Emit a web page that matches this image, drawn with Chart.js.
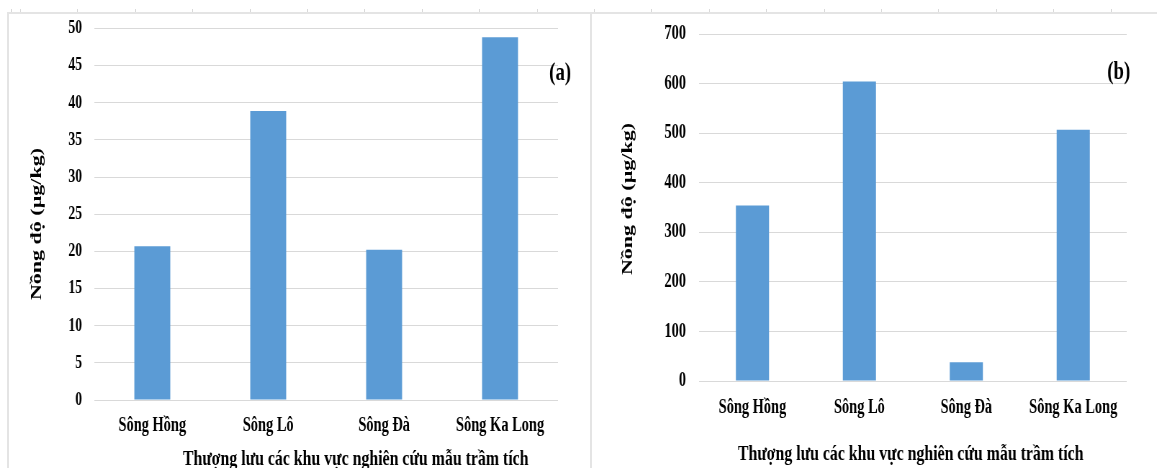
<!DOCTYPE html>
<html>
<head>
<meta charset="utf-8">
<script src="https://cdn.jsdelivr.net/npm/chart.js@4.4.1/dist/chart.umd.min.js"></script>
<style>
  html, body { margin: 0; padding: 0; background: #fff; overflow: hidden; }
  #page { position: relative; width: 1157px; height: 468px; overflow: hidden; background: #fff; }
  canvas { position: absolute; top: 0; transform: scaleX(0.72); transform-origin: 0 0; }
  #chartA { left: 0; }
  #chartB { left: 591px; }
  .rule { position: absolute; background: #e4e4e4; }
  #ruler {
    position: absolute; left: 0; top: 9px; width: 1157px; height: 3px;
    background: repeating-linear-gradient(to right, #dadada 0 1px, transparent 1px 57.4px);
    background-position: 20px 0;
  }
</style>
</head>
<body>
<div id="page">
  <div id="ruler"></div>
  <div class="rule" style="left:7px;top:12px;width:1150px;height:2px"></div>
  <div class="rule" style="left:7px;top:12px;width:2px;height:456px"></div>
  <div class="rule" style="left:590px;top:12px;width:2px;height:456px"></div>
  <canvas id="chartA" width="820" height="480"></canvas>
  <canvas id="chartB" width="786" height="480"></canvas>
</div>
<script>
// Data
const categories = ['Sông Hồng', 'Sông Lô', 'Sông Đà', 'Sông Ka Long'];
const valuesA = [20.7, 38.9, 20.2, 48.8];
const valuesB = [354, 604, 38, 507];
const ticksA = [0, 5, 10, 15, 20, 25, 30, 35, 40, 45, 50];
const ticksB = [0, 100, 200, 300, 400, 500, 600, 700];
const yTitle = 'Nồng độ (µg/kg)';
const xTitle = 'Thượng lưu các khu vực nghiên cứu mẫu trầm tích';

const serif = '"Liberation Serif", "Times New Roman", serif';

// axis titles and the (a)/(b) tag, drawn after the chart
const panelText = {
    id: 'panelText',
    afterDraw(chart, args, opts) {
        const ctx = chart.ctx;
        ctx.save();
        ctx.fillStyle = '#000';
        ctx.textAlign = 'center';
        ctx.font = 'bold 22px ' + serif;

        ctx.save();
        ctx.translate(opts.yTitleAt[0], opts.yTitleAt[1]);
        ctx.rotate(-Math.PI / 2);
        ctx.textBaseline = 'middle';
        ctx.fillText(yTitle, 0, 0);
        ctx.restore();

        ctx.textBaseline = 'alphabetic';
        ctx.fillText(xTitle, opts.xTitleAt[0], opts.xTitleAt[1]);

        ctx.font = 'bold 26px ' + serif;
        ctx.textBaseline = 'middle';
        ctx.fillText(opts.tag, opts.tagAt[0], opts.tagAt[1]);
        ctx.restore();
    }
};

function makeChart(id, values, ticks, opt) {
    return new Chart(document.getElementById(id), {
        type: 'bar',
        data: {
            labels: categories,
            datasets: [{
                data: values,
                backgroundColor: '#5b9bd5',
                categoryPercentage: 1,
                barPercentage: 0.31
            }]
        },
        options: {
            responsive: false,
            animation: false,
            layout: { padding: { left: 0, right: opt.padRight, top: opt.padTop, bottom: 0 } },
            plugins: {
                legend: { display: false },
                tooltip: { enabled: false },
                panelText: opt.text
            },
            scales: {
                x: {
                    grid: { display: false },
                    border: { display: false },
                    ticks: {
                        color: '#000',
                        font: { family: serif, weight: 'bold', size: 20 },
                        padding: opt.xPad,
                        maxRotation: 0,
                        autoSkip: false
                    },
                    afterFit: s => { s.height = opt.xHeight; }
                },
                y: {
                    min: ticks[0],
                    max: ticks[ticks.length - 1],
                    grid: { color: '#d9d9d9', drawTicks: false },
                    border: { display: false },
                    ticks: {
                        color: '#000',
                        font: { family: serif, weight: 'bold', size: opt.tickSize },
                        padding: opt.yPad
                    },
                    afterBuildTicks: s => { s.ticks = ticks.map(v => ({ value: v })); },
                    afterFit: s => { s.width = opt.yWidth; }
                }
            }
        },
        plugins: [panelText]
    });
}

makeChart('chartA', valuesA, ticksA, {
    padRight: 45, padTop: 25, xHeight: 80, yWidth: 131, yPad: 17, tickSize: 19, xPad: 6,
    text: { yTitleAt: [51, 224], xTitleAt: [494, 465], tag: '(a)', tagAt: [778, 73] }
});

makeChart('chartB', valuesB, ticksB, {
    padRight: 42, padTop: 34, xHeight: 99, yWidth: 150, yPad: 18, tickSize: 20, xPad: 7,
    text: { yTitleAt: [51, 199], xTitleAt: [444, 460], tag: '(b)', tagAt: [733, 72] }
});
</script>
</body>
</html>
